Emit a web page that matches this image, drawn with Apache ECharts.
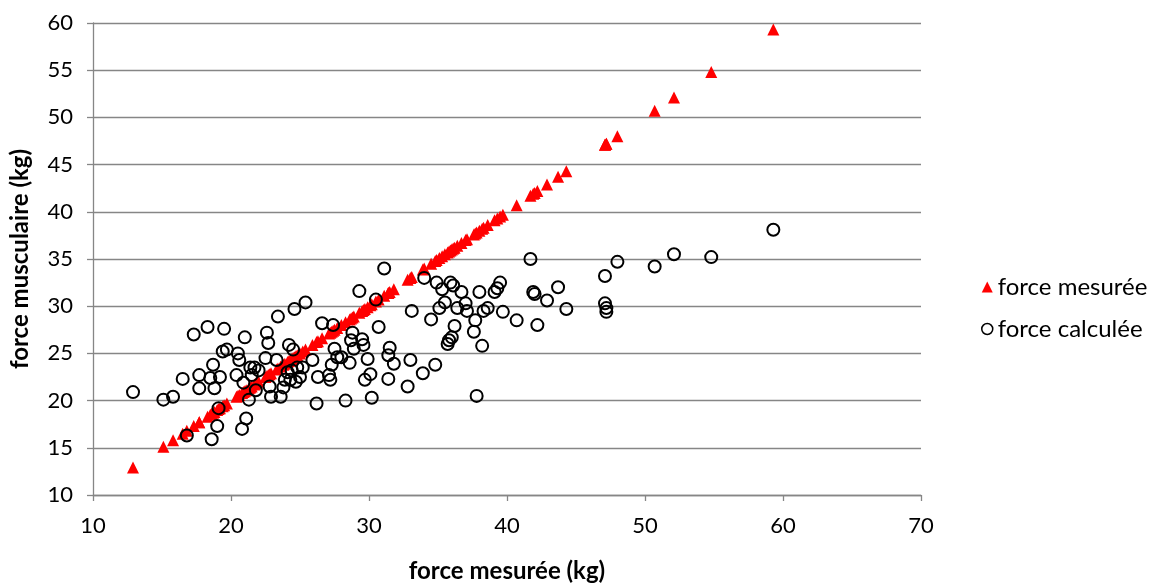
<!DOCTYPE html>
<html>
<head>
<meta charset="utf-8">
<script src="https://cdn.jsdelivr.net/npm/echarts@6/dist/echarts.min.js"></script>
<style>html,body{margin:0;padding:0;background:#fff}#c{width:1161px;height:584px}</style>
</head>
<body>
<div id="c"></div>
<script>
// force mesurée (kg) — shared x values
const forceMesuree = [12.9,15.1,15.8,16.5,16.8,17.3,17.7,17.7,18.3,18.6,18.7,18.5,18.8,19.0,19.2,19.1,19.4,19.5,19.7,20.4,20.5,20.6,20.8,20.9,21.0,21.1,21.3,21.4,21.5,21.7,21.8,22.0,22.6,22.5,22.7,22.8,22.9,23.3,23.4,23.6,23.8,23.9,24.1,24.2,24.3,24.4,24.5,24.6,24.7,24.8,25.2,25.0,25.4,25.9,26.2,26.3,26.6,27.1,27.2,27.3,27.4,27.5,27.7,28.0,28.3,28.6,28.7,28.8,28.9,29.3,29.5,29.6,29.7,29.9,30.1,30.2,30.5,30.7,31.1,31.4,31.5,31.4,31.8,32.8,33.1,33.0,33.9,34.0,34.5,34.9,34.8,35.1,35.3,35.5,35.7,35.9,35.8,36.1,36.0,36.2,36.4,36.7,37.0,37.1,37.7,37.6,37.8,38.0,38.3,38.2,38.6,39.1,39.3,39.5,39.7,40.7,41.7,41.9,42.0,42.2,42.9,43.7,44.3,47.1,47.1,47.2,47.2,48.0,50.7,52.1,54.8,59.3];
// force calculée (kg)
const forceCalculee = [20.9,20.1,20.4,22.3,16.3,27.0,22.7,21.3,27.8,15.9,23.8,22.4,21.3,17.3,22.5,19.2,25.2,27.6,25.4,22.7,25.0,24.3,17.0,21.9,26.7,18.1,20.1,23.5,22.7,23.5,21.1,23.2,27.2,24.5,26.1,21.5,20.4,24.3,28.9,20.4,21.4,22.2,23.0,25.9,22.2,23.2,25.4,29.7,22.0,23.5,23.5,22.5,30.4,24.3,19.7,22.5,28.2,22.7,22.2,23.8,28.0,25.5,24.6,24.6,20.0,24.0,26.4,27.2,25.5,31.6,26.5,25.9,22.2,24.4,22.8,20.3,30.7,27.8,34.0,24.8,25.6,22.3,23.9,21.5,29.5,24.3,22.9,33.0,28.6,32.5,23.8,29.8,31.8,30.4,26.0,32.5,26.4,32.2,26.7,27.9,29.8,31.5,30.3,29.5,28.5,27.3,20.5,31.5,29.5,25.8,29.8,31.5,31.9,32.5,29.4,28.5,35.0,31.5,31.3,28.0,30.6,32.0,29.7,33.2,30.3,29.8,29.4,34.7,34.2,35.5,35.2,38.1];
const xTicks = {min: 10, max: 70, interval: 10};
const yTicks = {min: 10, max: 60, interval: 5};
const seriesNames = ['force mesurée', 'force calculée'];
const axisNames = {x: 'force mesurée (kg)', y: 'force musculaire (kg)'};

const mesData = forceMesuree.map(v => [v, v]);
const calcData = forceMesuree.map((v, i) => [v, forceCalculee[i]]);

const chart = echarts.init(document.getElementById('c'), null, {renderer: 'canvas'});
const FONT = 'Lato, "Open Sans", sans-serif';
chart.setOption({
  animation: false,
  backgroundColor: '#fff',
  textStyle: {fontFamily: FONT},
  grid: {left: 93, right: 240, top: 23, bottom: 89, containLabel: false, outerBoundsMode: 'none'},
  legend: {
    orient: 'vertical', left: 976, top: 270, itemGap: 18,
    itemWidth: 11, itemHeight: 11,
    textStyle: {fontFamily: FONT, fontSize: 24, color: '#000'},
    data: [
      {name: seriesNames[0], icon: 'triangle', itemStyle: {color: '#ff0000'}},
      {name: seriesNames[1], icon: 'circle', itemStyle: {color: 'rgba(0,0,0,0)', borderColor: '#000', borderWidth: 1.5}}
    ]
  },
  xAxis: {
    type: 'value', min: xTicks.min, max: xTicks.max, interval: xTicks.interval,
    name: axisNames.x, nameLocation: 'middle', nameGap: 64,
    nameTextStyle: {fontFamily: FONT, fontSize: 24, fontWeight: 'bold', color: '#000'},
    axisLine: {show: true, lineStyle: {color: '#868686', width: 1.3}},
    axisTick: {show: true, length: 6, lineStyle: {color: '#868686', width: 1.3}},
    axisLabel: {fontFamily: FONT, fontSize: 22, color: '#000', margin: 20},
    splitLine: {show: false}
  },
  yAxis: {
    type: 'value', min: yTicks.min, max: yTicks.max, interval: yTicks.interval,
    name: axisNames.y, nameLocation: 'middle', nameGap: 61,
    nameTextStyle: {fontFamily: FONT, fontSize: 24, fontWeight: 'bold', color: '#000'},
    axisLine: {show: true, lineStyle: {color: '#868686', width: 1.3}},
    axisTick: {show: true, length: 6, lineStyle: {color: '#868686', width: 1.3}},
    axisLabel: {fontFamily: FONT, fontSize: 22, color: '#000', margin: 20},
    splitLine: {show: true, lineStyle: {color: '#868686', width: 1.3}}
  },
  series: [
    {
      name: seriesNames[0], type: 'scatter', data: mesData,
      symbol: 'triangle', symbolSize: 12,
      itemStyle: {color: '#ff0000', opacity: 1}
    },
    {
      name: seriesNames[1], type: 'scatter', data: calcData,
      symbol: 'circle', symbolSize: 12,
      itemStyle: {color: 'rgba(0,0,0,0)', borderColor: '#000', borderWidth: 2, opacity: 1}
    }
  ]
});
</script>
</body>
</html>
